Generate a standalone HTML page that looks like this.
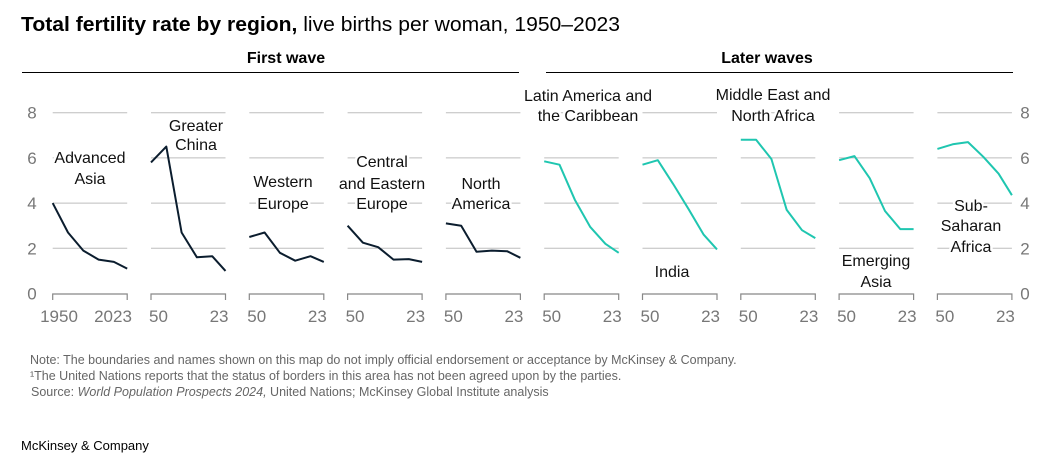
<!DOCTYPE html>
<html><head><meta charset="utf-8"><style>
html,body{margin:0;padding:0;background:#fff;}
body{width:1050px;height:467px;overflow:hidden;font-family:"Liberation Sans",Arial,sans-serif;}
</style></head><body>
<svg width="1050" height="467" viewBox="0 0 1050 467" font-family="Liberation Sans, Arial, sans-serif">
<text x="21" y="31" font-size="20" textLength="599" lengthAdjust="spacingAndGlyphs" fill="#000"><tspan font-weight="bold">Total fertility rate by region,</tspan> live births per woman, 1950–2023</text>
<text x="286" y="63" font-size="16" font-weight="bold" text-anchor="middle" fill="#000">First wave</text>
<line x1="22" y1="72.5" x2="519" y2="72.5" stroke="#000" stroke-width="1"/>
<text x="767" y="63" font-size="16" font-weight="bold" text-anchor="middle" fill="#000">Later waves</text>
<line x1="546" y1="72.5" x2="1013" y2="72.5" stroke="#000" stroke-width="1"/>
<g id="plot"></g>
<g id="labels" font-size="16" fill="#111" text-anchor="middle" stroke="#fff" stroke-width="5" paint-order="stroke" stroke-linejoin="round"></g>
<text x="30" y="364" font-size="12.5" fill="#666">Note: The boundaries and names shown on this map do not imply official endorsement or acceptance by McKinsey &amp; Company.</text>
<text x="30" y="380" font-size="12.5" fill="#666">¹The United Nations reports that the status of borders in this area has not been agreed upon by the parties.</text>
<text x="31" y="396" font-size="12.5" fill="#666">Source: <tspan font-style="italic">World Population Prospects 2024,</tspan> United Nations; McKinsey Global Institute analysis</text>
<text x="21" y="450" font-size="13" fill="#000">McKinsey &amp; Company</text>
</svg>
<script>
const regions=["Advanced Asia","Greater China","Western Europe","Central and Eastern Europe","North America","Latin America and the Caribbean","India","Middle East and North Africa","Emerging Asia","Sub-Saharan Africa"];
const years=[1950,1965,1980,1995,2010,2023];
const advancedAsia=[4.0,2.7,1.9,1.5,1.4,1.1];
const greaterChina=[5.8,6.5,2.7,1.6,1.65,1.0];
const westernEurope=[2.5,2.7,1.8,1.45,1.65,1.4];
const centralEasternEurope=[3.0,2.25,2.05,1.5,1.52,1.4];
const northAmerica=[3.1,3.0,1.85,1.9,1.87,1.58];
const latinAmerica=[5.85,5.7,4.15,2.95,2.2,1.8];
const india=[5.7,5.9,4.85,3.75,2.6,1.95];
const mena=[6.8,6.8,5.95,3.7,2.8,2.45];
const emergingAsia=[5.9,6.08,5.1,3.65,2.85,2.85];
const subSaharanAfrica=[6.4,6.6,6.7,6.05,5.3,4.35];
const yTicks=[0,2,4,6,8];
const series=[advancedAsia,greaterChina,westernEurope,centralEasternEurope,northAmerica,latinAmerica,india,mena,emergingAsia,subSaharanAfrica];
const NS="http://www.w3.org/2000/svg";
const plot=document.getElementById('plot');
const lab=document.getElementById('labels');
const px0=52.7,pstep=98.3,pw=74.5;
function yScale(v){return 293.5-v*22.6;}
function xScale(i,yr){return px0+i*pstep+(yr-years[0])/(years[years.length-1]-years[0])*pw;}
function mk(tag,attrs,parent){const e=document.createElementNS(NS,tag);for(const k in attrs)e.setAttribute(k,attrs[k]);parent.appendChild(e);return e;}
yTicks.forEach(t=>{
  const l=mk('text',{x:32,y:yScale(t)+6,'font-size':17,fill:'#777','text-anchor':'middle'},plot);l.textContent=t;
  
  
  const r=mk('text',{x:1025,y:yScale(t)+6,'font-size':17,fill:'#777','text-anchor':'middle'},plot);r.textContent=t;
  
  
});
regions.forEach((name,i)=>{
  const g=mk('g',{},plot);
  
  
  const x1=xScale(i,years[0]),x2=xScale(i,years[years.length-1]);
  yTicks.filter(t=>t>0).forEach(t=>{
    const gl=mk('line',{x1:x1,x2:x2,y1:yScale(t),y2:yScale(t),stroke:'#bdbdbd','stroke-width':1},g);
    
    
  });
  const ax=mk('path',{d:`M${x1},300V294H${x2}V300`,fill:'none',stroke:'#888','stroke-width':1.2},g);
  
  
  const d=series[i].map((v,j)=>(j?'L':'M')+xScale(i,years[j]).toFixed(1)+','+yScale(v).toFixed(1)).join('');
  const p=mk('path',{d:d,fill:'none',stroke:i<5?'#0b1d2e':'#1fc6b0','stroke-width':2,'stroke-linejoin':'round'},g);
  
  
  let a,b;
  if(i===0){a=mk('text',{x:59,y:322,'font-size':17,fill:'#777','text-anchor':'middle'},g);a.textContent=years[0];
    b=mk('text',{x:113,y:322,'font-size':17,fill:'#777','text-anchor':'middle'},g);b.textContent=years[years.length-1];}
  else{a=mk('text',{x:x1-2,y:322,'font-size':17,fill:'#777','text-anchor':'start'},g);a.textContent=String(years[0]).slice(2);
    b=mk('text',{x:x2+3,y:322,'font-size':17,fill:'#777','text-anchor':'end'},g);b.textContent=String(years[years.length-1]).slice(2);}
  
  
  
  
});
const labelLines=[[90,[163,184],["Advanced","Asia"]],[196,[131,150],["Greater","China"]],[283,[187,209],["Western","Europe"]],[382,[167,189,209],["Central","and Eastern","Europe"]],[481,[189,209],["North","America"]],[588,[101,121],["Latin America and","the Caribbean"]],[672,[277],["India"]],[773,[100,121],["Middle East and","North Africa"]],[876,[266,287],["Emerging","Asia"]],[971,[211,231,252],["Sub-","Saharan","Africa"]]];
labelLines.forEach((L,i)=>{
  const t=mk('text',{x:L[0],y:L[1][0]},lab);
  
  
  L[2].forEach((s,k)=>{const ts=mk('tspan',{x:L[0],y:L[1][k]},t);ts.textContent=s;});
});
</script>
</body></html>
